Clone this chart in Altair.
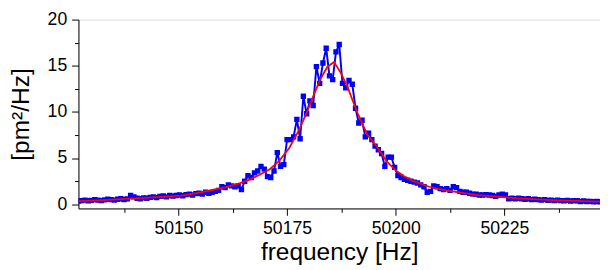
import altair as alt
import pandas as pd

# measured spectrum (blue squares), sampled every 0.75 Hz starting at 50127 Hz
freq_start = 50127.0
freq_step = 0.75
psd = [
    0.35, 0.40, 0.45, 0.38, 0.42, 0.50, 0.45, 0.40, 0.48, 0.55,
    0.50, 0.45, 0.55, 0.60, 0.52, 0.58, 0.95, 0.80, 0.65, 0.60,
    0.70, 0.65, 0.75, 0.80, 0.72, 0.85, 0.90, 0.80, 0.95, 0.88,
    0.95, 1.00, 0.92, 1.05, 1.10, 1.00, 1.15, 1.20, 1.10, 1.30,
    1.20, 1.30, 1.40, 1.50, 1.90, 1.80, 2.10, 2.00, 1.90, 2.00,
    1.60, 2.50, 3.10, 2.90, 3.40, 3.60, 4.10, 3.80, 3.00, 2.90,
    3.60, 5.60, 4.10, 4.30, 7.00, 7.00, 7.30, 9.20, 7.10, 11.70,
    9.80, 11.20, 10.70, 14.90, 13.10, 15.30, 16.90, 13.90, 13.50, 16.50,
    17.30, 13.10, 12.60, 13.40, 13.00, 10.40, 8.80, 9.10, 7.30, 7.70,
    7.00, 6.30, 5.90, 5.50, 4.10, 5.10, 5.10, 4.00, 3.10, 2.90,
    2.70, 2.60, 2.50, 2.40, 2.30, 2.10, 1.90, 1.30, 1.40, 2.00,
    1.90, 1.70, 1.60, 1.70, 1.50, 1.90, 1.80, 1.40, 1.30, 1.30,
    1.20, 1.10, 1.10, 1.00, 1.00, 1.05, 1.00, 0.95, 0.85, 1.00,
    1.10, 1.00, 0.60, 0.65, 0.60, 0.65, 0.60, 0.55, 0.60, 0.50,
    0.55, 0.50, 0.45, 0.50, 0.42, 0.45, 0.40, 0.45, 0.40, 0.38,
    0.42, 0.35, 0.40, 0.38, 0.30, 0.35, 0.30, 0.32, 0.28, 0.30, 0.28,
]
freqs = [round(freq_start + i * freq_step, 2) for i in range(len(psd))]

# fitted curve (red)
fit_freq = [50127.0, 50132.7, 50139.0, 50145.1, 50150.7, 50154.1, 50157.5, 50160.9,
            50164.2, 50166.5, 50168.7, 50171.0, 50173.2, 50175.5, 50177.7, 50179.5,
            50181.1, 50182.7, 50184.3, 50185.8, 50187.4, 50189.0, 50191.0, 50193.5,
            50195.7, 50198.0, 50200.2, 50202.0, 50204.1, 50207.7, 50211.5, 50215.3,
            50218.9, 50222.7, 50229.0, 50236.2, 50243.0, 50247.0]
fit_psd = [0.35, 0.45, 0.60, 0.78, 0.95, 1.20, 1.50, 1.85,
           2.30, 2.70, 3.20, 3.80, 4.70, 6.10, 8.00, 9.90,
           11.80, 13.60, 14.90, 15.40, 14.20, 12.60, 10.10, 7.50,
           6.20, 4.60, 3.60, 3.00, 2.50, 1.90, 1.50, 1.24,
           1.00, 0.85, 0.60, 0.45, 0.35, 0.30]

x_major = [50150, 50175, 50200, 50225]
x_minor = [50137.5, 50162.5, 50187.5, 50212.5, 50237.5]
y_major = [0, 5, 10, 15, 20]
y_minor = [2.5, 7.5, 12.5, 17.5]

meas = pd.DataFrame({"f": freqs, "p": psd})
fit = pd.DataFrame({"f": fit_freq, "p": fit_psd})

FONT = "Liberation Sans"
xscale = alt.Scale(domain=[50127, 50247], nice=False, zero=False)
yscale = alt.Scale(domain=[-0.45, 20], nice=False, zero=False)

x_axis = alt.Axis(
    values=x_major + x_minor,
    labelExpr="(datum.value - 50150) % 25 == 0 ? datum.label : ''",
    tickSize={"condition": {"test": "(datum.value - 50150) % 25 == 0", "value": 7}, "value": 4},
    format="d", grid=False, title="frequency [Hz]",
    labelFontSize=18, titleFontSize=25, labelFont=FONT, titleFont=FONT,
    titleFontWeight="normal", labelColor="black", titleColor="black",
    domainColor="black", tickColor="black", labelPadding=5, titlePadding=2,
)
y_axis = alt.Axis(
    values=y_major + y_minor,
    labelExpr="datum.value % 5 == 0 ? datum.label : ''",
    tickSize={"condition": {"test": "datum.value % 5 == 0", "value": 7}, "value": 4},
    grid=False, title="[pm²/Hz]",
    labelFontSize=18, titleFontSize=25, labelFont=FONT, titleFont=FONT,
    titleFontWeight="normal", labelColor="black", titleColor="black",
    domainColor="black", tickColor="black", labelPadding=5, titlePadding=14,
)

base_x = alt.X("f:Q", scale=xscale, axis=x_axis)
base_y = alt.Y("p:Q", scale=yscale, axis=y_axis)

blue = alt.Chart(meas).mark_line(
    color="#0000FF", strokeWidth=2, clip=True,
    point=alt.OverlayMarkDef(shape="square", size=30, filled=True, color="#0000FF", opacity=1),
).encode(x=base_x, y=base_y)

red = alt.Chart(fit).mark_line(color="#FF0000", strokeWidth=1.8, clip=True).encode(x=base_x, y=base_y)

chart = alt.layer(blue, red).properties(
    width=533, height=193, padding={"left": 0, "top": 0, "right": 0, "bottom": 0}
).configure_view(stroke=None).configure(background="white")

chart.save("out.html", embed_options={"renderer": "svg", "actions": False})
